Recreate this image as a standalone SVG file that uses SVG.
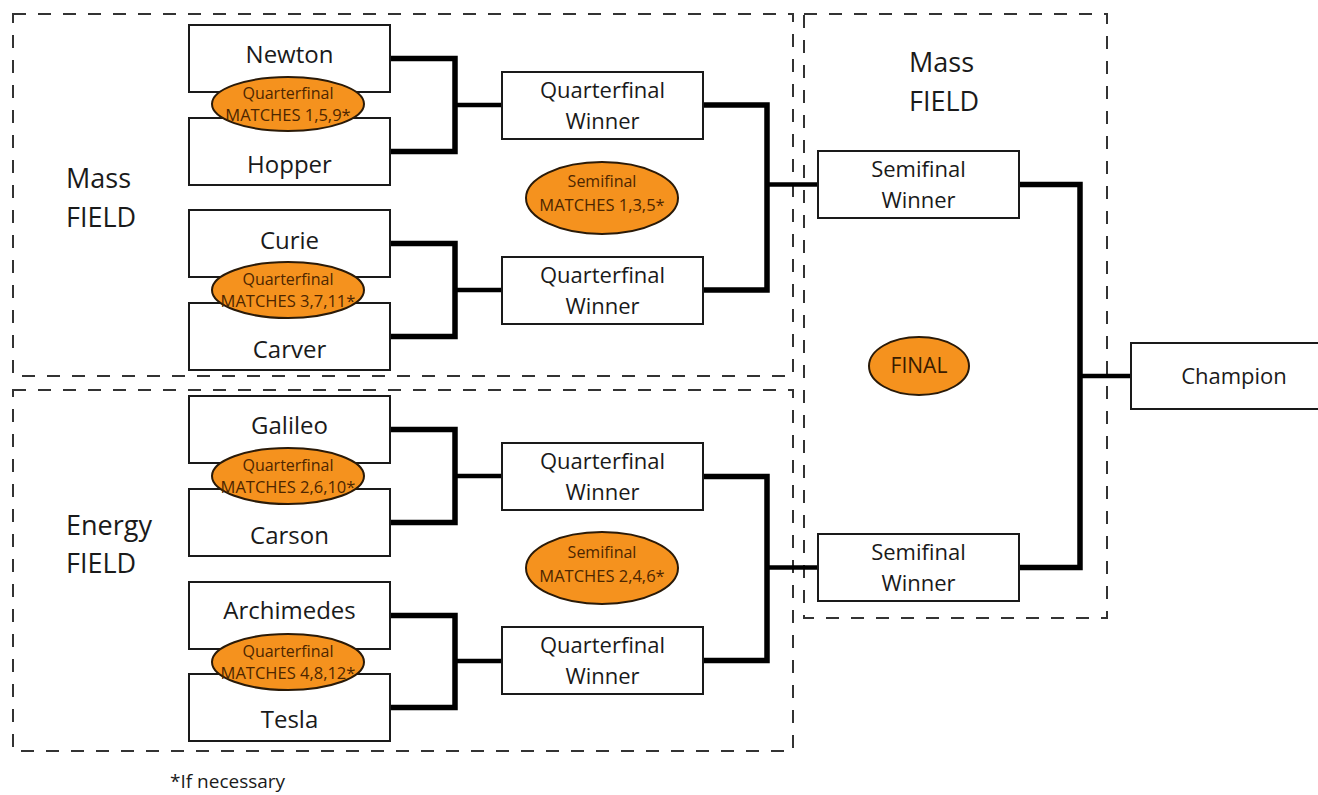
<svg xmlns="http://www.w3.org/2000/svg" width="1318" height="795" viewBox="0 0 1318 795">
<style>
.zone{fill:none;stroke:#333;stroke-width:2;stroke-dasharray:13 12}
.box{fill:#fff;stroke:#1a1a1a;stroke-width:2}
.ell{fill:#F5921E;stroke:#2a1a08;stroke-width:2}
.br{fill:none;stroke:#000;stroke-width:5.5;stroke-linejoin:miter}
.stub{fill:none;stroke:#000;stroke-width:4.5}
text{font-family:"Open Sans","Noto Sans","DejaVu Sans",sans-serif;fill:#1a1a1a}
.nm{font-size:24px;text-anchor:middle}
.wn{font-size:22px;text-anchor:middle}
.fld{font-size:27px}
.et{font-size:16px;text-anchor:middle;fill:#4d2600}
.et2{font-size:16.5px;text-anchor:middle;fill:#4d2600}
.fin{font-size:21px;text-anchor:middle;fill:#3a1c00}
.note{font-size:19px}
</style>
<g id="zones">
<rect class="zone" x="13" y="14" width="780" height="362"/>
<rect class="zone" x="13" y="390" width="780" height="361"/>
<rect class="zone" x="804" y="14" width="303" height="604"/>
</g>
<g id="connectors">
<path class="br" d="M390,58.5 H455 V151.5 H390"/>
<path class="stub" d="M455,105 H502"/>
<path class="br" d="M390,243.5 H455 V336.5 H390"/>
<path class="stub" d="M455,290 H502"/>
<path class="br" d="M390,429.5 H455 V522.5 H390"/>
<path class="stub" d="M455,476 H502"/>
<path class="br" d="M390,615.5 H455 V707.5 H390"/>
<path class="stub" d="M455,661 H502"/>
<path class="br" d="M703,105 H767 V290 H703"/>
<path class="stub" d="M767,184.5 H818"/>
<path class="br" d="M703,476.5 H767 V660.5 H703"/>
<path class="stub" d="M767,567.5 H818"/>
<path class="br" d="M1019,184.5 H1080 V567.5 H1019"/>
<path class="stub" d="M1080,376 H1131"/>
</g>
<g id="labels">
<text class="fld" x="66" y="188">Mass</text>
<text class="fld" x="66" y="227">FIELD</text>
<text class="fld" x="66" y="535">Energy</text>
<text class="fld" x="66" y="573">FIELD</text>
<text class="fld" x="909" y="72">Mass</text>
<text class="fld" x="909" y="111">FIELD</text>
<text class="note" x="170" y="788">*If necessary</text>
</g>
<g id="newton"><rect class="box" x="189" y="25" width="201" height="67"/><text class="nm" x="289.5" y="63">Newton</text></g>
<g id="hopper"><rect class="box" x="189" y="118" width="201" height="67"/><text class="nm" x="289.5" y="173">Hopper</text></g>
<g id="curie"><rect class="box" x="189" y="210" width="201" height="67"/><text class="nm" x="289.5" y="249">Curie</text></g>
<g id="carver"><rect class="box" x="189" y="303" width="201" height="67"/><text class="nm" x="289.5" y="358">Carver</text></g>
<g id="galileo"><rect class="box" x="189" y="396" width="201" height="67"/><text class="nm" x="289.5" y="434">Galileo</text></g>
<g id="carson"><rect class="box" x="189" y="489" width="201" height="67"/><text class="nm" x="289.5" y="544">Carson</text></g>
<g id="archimedes"><rect class="box" x="189" y="582" width="201" height="67"/><text class="nm" x="289.5" y="619">Archimedes</text></g>
<g id="tesla"><rect class="box" x="189" y="674" width="201" height="67"/><text class="nm" x="289.5" y="728">Tesla</text></g>
<g id="qf1"><ellipse class="ell" cx="288" cy="104" rx="76" ry="27"/><text class="et" x="288" y="99">Quarterfinal</text><text class="et2" x="288" y="121">MATCHES 1,5,9*</text></g>
<g id="qf2"><ellipse class="ell" cx="288" cy="290" rx="76" ry="28"/><text class="et" x="288" y="285">Quarterfinal</text><text class="et2" x="288" y="307">MATCHES 3,7,11*</text></g>
<g id="qf3"><ellipse class="ell" cx="288" cy="476" rx="76" ry="28"/><text class="et" x="288" y="471">Quarterfinal</text><text class="et2" x="288" y="493">MATCHES 2,6,10*</text></g>
<g id="qf4"><ellipse class="ell" cx="288" cy="662" rx="76" ry="28"/><text class="et" x="288" y="657">Quarterfinal</text><text class="et2" x="288" y="679">MATCHES 4,8,12*</text></g>
<g id="qfw1"><rect class="box" x="502" y="72" width="201" height="67"/><text class="wn" x="602.5" y="98">Quarterfinal</text><text class="wn" x="602.5" y="129">Winner</text></g>
<g id="qfw2"><rect class="box" x="502" y="257" width="201" height="67"/><text class="wn" x="602.5" y="283">Quarterfinal</text><text class="wn" x="602.5" y="314">Winner</text></g>
<g id="qfw3"><rect class="box" x="502" y="443" width="201" height="67"/><text class="wn" x="602.5" y="469">Quarterfinal</text><text class="wn" x="602.5" y="500">Winner</text></g>
<g id="qfw4"><rect class="box" x="502" y="627" width="201" height="67"/><text class="wn" x="602.5" y="653">Quarterfinal</text><text class="wn" x="602.5" y="684">Winner</text></g>
<g id="sf1"><ellipse class="ell" cx="602" cy="198" rx="76" ry="36"/><text class="et" x="602" y="187">Semifinal</text><text class="et2" x="602" y="211">MATCHES 1,3,5*</text></g>
<g id="sf2"><ellipse class="ell" cx="602" cy="568" rx="76" ry="36"/><text class="et" x="602" y="558">Semifinal</text><text class="et2" x="602" y="582">MATCHES 2,4,6*</text></g>
<g id="sfw1"><rect class="box" x="818" y="151" width="201" height="67"/><text class="wn" x="918.5" y="177">Semifinal</text><text class="wn" x="918.5" y="208">Winner</text></g>
<g id="sfw2"><rect class="box" x="818" y="534" width="201" height="67"/><text class="wn" x="918.5" y="560">Semifinal</text><text class="wn" x="918.5" y="591">Winner</text></g>
<g id="final"><ellipse class="ell" cx="919" cy="366" rx="50" ry="29"/><text class="fin" x="919" y="373">FINAL</text></g>
<g id="champion"><rect class="box" x="1131" y="343" width="200" height="66"/><text class="wn" x="1234" y="384">Champion</text></g>
</svg>
